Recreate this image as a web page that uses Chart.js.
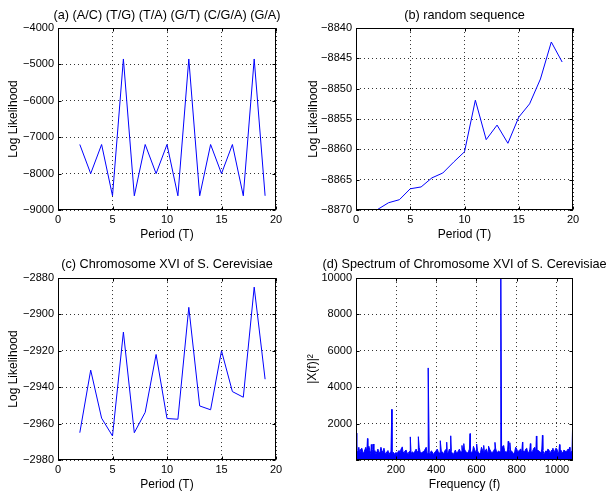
<!DOCTYPE html>
<html>
<head>
<meta charset="utf-8">
<script src="https://cdn.jsdelivr.net/npm/chart.js@4.4.0/dist/chart.umd.min.js"></script>
<style>
html, body { margin: 0; padding: 0; background: #fff; overflow: hidden; }
#page { position: relative; width: 607px; height: 495px; overflow: hidden; }
canvas { position: absolute; }
</style>
</head>
<body>
<div id="page">
    <canvas id="chartA" width="334" height="247" style="left:0px;top:0px"></canvas>
    <canvas id="chartB" width="329" height="247" style="left:300px;top:0px"></canvas>
    <canvas id="chartC" width="334" height="245" style="left:0px;top:250px"></canvas>
    <canvas id="chartD" width="329" height="245" style="left:300px;top:250px"></canvas>
</div>
<script>
// Data
const periods = [2, 3, 4, 5, 6, 7, 8, 9, 10, 11, 12, 13, 14, 15, 16, 17, 18, 19];

// (a) synthetic sequence
const likelihoodA = [-7200, -8000, -7200, -8610, -4850, -8610, -7200, -8000, -7200,
                     -8610, -4850, -8610, -7200, -8000, -7200, -8610, -4850, -8610];

// (b) random sequence
const likelihoodB = [-8869.9, -8868.8, -8868.3, -8866.5, -8866.2, -8864.7, -8863.9, -8862.1, -8860.4,
                     -8851.9, -8858.4, -8856.0, -8859.0, -8854.7, -8852.5, -8848.4, -8842.3, -8845.6];

// (c) chromosome XVI
const likelihoodC = [-2965, -2930.6, -2957, -2966.8, -2909.7, -2965, -2953.8, -2922, -2957.2,
                     -2957.6, -2896.1, -2950.3, -2952.4, -2920, -2942.4, -2945.5, -2885, -2935.6];

// (d) spectrum: background floor (every 5 from f=5) plus the visible spikes
const floorPower = [
    520, 450, 700, 380, 600, 650, 420, 380, 560, 700, 480, 420, 760, 520, 350, 600, 450, 380, 520, 350,
    450, 600, 380, 420, 700, 500, 420, 650, 380, 350, 450, 520, 300, 400, 480, 350, 420, 380, 300, 420,
    300, 450, 520, 380, 600, 700, 420, 400, 500, 550, 380, 350, 450, 500, 300, 450, 400, 380, 500, 600,
    420, 500, 700, 450, 380, 420, 450, 500, 600, 700, 350, 400, 420, 350, 500, 450, 300, 380, 450, 520,
    600, 450, 380, 400, 500, 450, 350, 420, 550, 600, 400, 380, 600, 500, 450, 380, 300, 420, 550, 400,
    400, 500, 600, 450, 450, 520, 700, 600, 500, 420, 380, 450, 600, 500, 420, 380, 750, 600, 450, 500,
    500, 420, 350, 400, 700, 550, 420, 380, 550, 600, 400, 450, 600, 520, 380, 420, 500, 600, 650, 450,
    420, 500, 450, 500, 600, 750, 800, 500, 450, 420, 550, 600, 400, 450, 500, 380, 350, 450, 700, 600,
    450, 500, 550, 600, 400, 380, 500, 450, 600, 650, 380, 420, 550, 450, 450, 500, 650, 700, 400, 450,
    550, 500, 450, 380, 600, 550, 350, 400, 500, 450, 600, 550, 400, 450, 550, 600, 450, 500, 650, 600,
    400, 450, 500, 550, 380, 420, 550, 500, 450, 500, 600, 550, 400, 450, 500];
const spikeFreq = [1, 58, 77, 86, 179, 231, 271, 311, 360, 420, 452, 472, 528, 537, 568, 601,
                   636, 660, 692, 721, 733, 758, 766, 829, 868, 898, 928, 980, 1013, 1063, 1080];
const spikePower = [1480, 1180, 850, 880, 2780, 720, 1270, 1280, 5060, 1060, 980, 1330, 800, 900, 1450, 880,
                    800, 760, 970, 10500, 720, 1030, 950, 990, 900, 1320, 1360, 650, 850, 700, 2760];

const FONT = "'Liberation Sans', Arial, Helvetica, sans-serif";
const minus = v => String(v).replace('-', '\u2212');

// MATLAB style box with inward tick marks
const boxPlugin = {
    id: 'box',
    afterDatasetsDraw(chart) {
        const { ctx, chartArea: a, scales } = chart;
        const l = Math.round(a.left) + 0.5, r = Math.round(a.right) - 0.5;
        const t = Math.round(a.top) + 0.5, b = Math.round(a.bottom) - 0.5;
        ctx.save();
        ctx.setLineDash([]);
        ctx.strokeStyle = '#000';
        ctx.lineWidth = 1;
        ctx.beginPath();
        scales.x.ticks.forEach(tk => {
            const px = Math.round(scales.x.getPixelForValue(tk.value)) + 0.5;
            ctx.moveTo(px, b); ctx.lineTo(px, b - 3);
            ctx.moveTo(px, t); ctx.lineTo(px, t + 3);
        });
        scales.y.ticks.forEach(tk => {
            const py = Math.round(scales.y.getPixelForValue(tk.value)) + 0.5;
            ctx.moveTo(l, py); ctx.lineTo(l + 3, py);
            ctx.moveTo(r, py); ctx.lineTo(r - 3, py);
        });
        ctx.stroke();
        ctx.strokeRect(l, t, r - l, b - t);
        ctx.restore();
    }
};

function panelOptions(cfg) {
    const tickFont = { family: FONT, size: 11 };
    const grid = { color: 'rgba(0,0,0,0.8)', drawTicks: false, lineWidth: 1 };
    return {
        responsive: false,
        animation: false,
        devicePixelRatio: 1,
        layout: { padding: 0 },
        plugins: {
            legend: { display: false },
            tooltip: { enabled: false },
            title: {
                display: true, text: cfg.title, color: '#000',
                font: { family: FONT, size: 12.7, weight: 'normal' },
                padding: { top: cfg.titleTop, bottom: cfg.titleBottom }
            }
        },
        scales: {
            x: {
                type: 'linear', min: cfg.xMin, max: cfg.xMax,
                afterFit: s => { s.height = cfg.xHeight; },
                ticks: { stepSize: cfg.xStep, includeBounds: false, autoSkip: false, maxRotation: 0,
                         padding: 3, color: '#000', font: tickFont, callback: v => String(v) },
                grid: grid,
                border: { display: false, dash: [1, 3] },
                title: { display: true, text: cfg.xTitle, color: '#000',
                         font: { family: FONT, size: 12 }, padding: { top: 0, bottom: cfg.xTitlePad } }
            },
            y: {
                min: cfg.yMin, max: cfg.yMax,
                afterFit: s => { s.width = cfg.yWidth; },
                ticks: { stepSize: cfg.yStep, autoSkip: false, padding: 4, color: '#000', font: tickFont,
                         callback: cfg.yLabel || (v => minus(v)) },
                grid: grid,
                border: { display: false, dash: [1, 3] },
                title: { display: true, text: cfg.yTitle, color: '#000',
                         font: { family: FONT, size: 12 }, padding: { top: cfg.yTitlePad, bottom: 0 } }
            },
            // empty right-hand spacer, same width as the y axis, so the title centres over the axes
            spacer: {
                position: 'right', display: true,
                afterFit: s => { s.width = cfg.yWidth; },
                ticks: { display: false },
                grid: { display: false, drawOnChartArea: false },
                border: { display: false }
            }
        }
    };
}

function lineData(vals) {
    return {
        datasets: [{
            data: periods.map((p, i) => ({ x: p, y: vals[i] })),
            borderColor: '#0000ff', borderWidth: 1, pointRadius: 0, tension: 0, fill: false
        }]
    };
}

new Chart(document.getElementById('chartA'), {
    type: 'line',
    data: lineData(likelihoodA),
    options: panelOptions({
        title: '(a) (A/C) (T/G) (T/A) (G/T) (C/G/A) (G/A)', titleTop: 7.4, titleBottom: 5.4,
        xTitle: 'Period (T)', yTitle: 'Log Likelihood',
        xMin: 0, xMax: 20, xStep: 5, yMin: -9000, yMax: -4000, yStep: 1000,
        yWidth: 58, xHeight: 37, xTitlePad: 4.8, yTitlePad: 6
    }),
    plugins: [boxPlugin]
});

new Chart(document.getElementById('chartB'), {
    type: 'line',
    data: lineData(likelihoodB),
    options: panelOptions({
        title: '(b) random sequence', titleTop: 7.4, titleBottom: 5.4,
        xTitle: 'Period (T)', yTitle: 'Log Likelihood',
        xMin: 0, xMax: 20, xStep: 5, yMin: -8870, yMax: -8840, yStep: 5,
        yWidth: 56, xHeight: 37, xTitlePad: 4.8, yTitlePad: 6
    }),
    plugins: [boxPlugin]
});

new Chart(document.getElementById('chartC'), {
    type: 'line',
    data: lineData(likelihoodC),
    options: panelOptions({
        title: '(c) Chromosome XVI of S. Cerevisiae', titleTop: 6.4, titleBottom: 6.4,
        xTitle: 'Period (T)', yTitle: 'Log Likelihood',
        xMin: 0, xMax: 20, xStep: 5, yMin: -2980, yMax: -2880, yStep: 20,
        yWidth: 58, xHeight: 35, xTitlePad: 2.8, yTitlePad: 6
    }),
    plugins: [boxPlugin]
});

// spectrum points, floor and spikes merged in frequency order
const spectrum = floorPower.map((v, i) => ({ x: 5 + i * 5, y: v }))
    .concat(spikeFreq.map((f, i) => ({ x: f, y: spikePower[i] })))
    .sort((p, q) => p.x - q.x);

new Chart(document.getElementById('chartD'), {
    type: 'line',
    data: {
        datasets: [{
            data: spectrum,
            borderColor: '#0000ff', backgroundColor: '#0000ff', borderWidth: 1,
            pointRadius: 0, tension: 0, fill: 'origin'
        }]
    },
    options: panelOptions({
        title: '(d) Spectrum of Chromosome XVI of S. Cerevisiae', titleTop: 6.4, titleBottom: 6.4,
        xTitle: 'Frequency (f)', yTitle: '|X(f)|\u00b2',
        xMin: 1, xMax: 1080, xStep: 200, yMin: 0, yMax: 10000, yStep: 2000,
        yWidth: 56, xHeight: 35, xTitlePad: 2.8, yTitlePad: 5,
        yLabel: v => (v === 0 ? '' : String(v))
    }),
    plugins: [boxPlugin]
});
</script>
</body>
</html>
